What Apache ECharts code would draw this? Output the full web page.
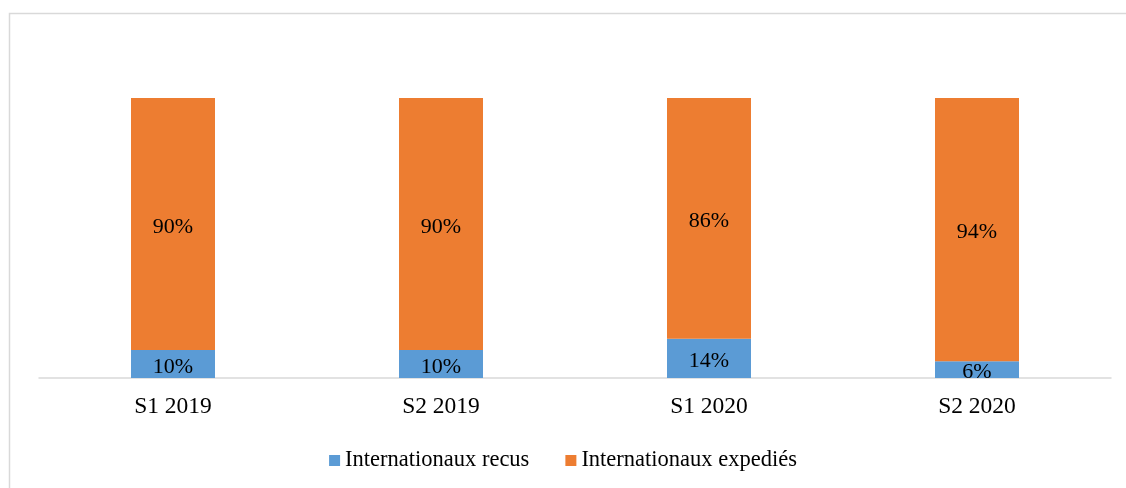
<!DOCTYPE html>
<html>
<head>
<meta charset="utf-8">
<script src="https://cdn.jsdelivr.net/npm/echarts@6/dist/echarts.min.js"></script>
<style>
  html, body { margin: 0; padding: 0; background: #fff; }
  #chart { width: 1126px; height: 488px; }
</style>
</head>
<body>
<div id="chart"></div>
<script>
// Semesters and shares (%) of international parcels
const categories = ['S1 2019', 'S2 2019', 'S1 2020', 'S2 2020'];
const recus = [10, 10, 14, 6];
const expedies = [90, 90, 86, 94];

const FONT = '"Liberation Serif", "Times New Roman", serif';

const chart = echarts.init(document.getElementById('chart'));

const pctLabel = {
  show: true,
  position: 'inside',
  offset: [0, 3],
  color: '#000',
  fontFamily: FONT,
  fontSize: 22,
  formatter: (p) => p.value + '%'
};

chart.setOption({
  animation: false,
  graphic: [{
    type: 'rect',
    shape: { x: 9.5, y: 13.5, width: 1130, height: 490 },
    style: { fill: null, stroke: '#d9d9d9', lineWidth: 1.5 },
    silent: true
  }],
  grid: { left: 39, right: 15, top: 98, bottom: 110 },
  legend: {
    bottom: 11,
    left: 'center',
    itemWidth: 11,
    itemHeight: 11,
    itemGap: 36,
    icon: 'rect',
    textStyle: { fontFamily: FONT, fontSize: 22.5, color: '#000' },
    data: ['Internationaux recus', 'Internationaux expediés']
  },
  xAxis: {
    type: 'category',
    data: categories,
    axisLine: { lineStyle: { color: '#d9d9d9', width: 1.5 } },
    axisTick: { show: false },
    axisLabel: { fontFamily: FONT, fontSize: 23.5, color: '#000', margin: 17 }
  },
  yAxis: {
    type: 'value',
    min: 0,
    max: 100,
    show: false
  },
  series: [
    {
      name: 'Internationaux recus',
      type: 'bar',
      stack: 'total',
      barWidth: 84,
      data: recus,
      itemStyle: { color: '#5B9BD5' },
      label: pctLabel
    },
    {
      name: 'Internationaux expediés',
      type: 'bar',
      stack: 'total',
      barWidth: 84,
      data: expedies,
      itemStyle: { color: '#ED7D31' },
      label: pctLabel
    }
  ]
});
</script>
</body>
</html>
